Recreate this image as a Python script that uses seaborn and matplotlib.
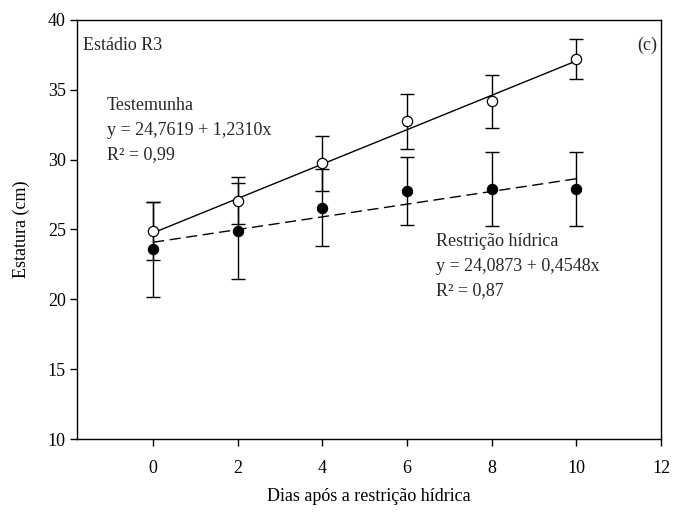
import matplotlib
matplotlib.use("Agg")
import matplotlib.pyplot as plt
import seaborn as sns
import numpy as np
import pandas as pd

# ---- data ----
dias = [0, 2, 4, 6, 8, 10]
testemunha = [24.9, 27.07, 29.74, 32.74, 34.17, 37.2]
testemunha_err = [2.1, 1.7, 1.95, 1.95, 1.9, 1.45]
restricao = [23.57, 24.9, 26.57, 27.74, 27.93, 27.93]
restricao_err = [3.4, 3.45, 2.75, 2.45, 2.65, 2.65]
fit_testemunha = [24.7619, 1.2310]   # intercept, slope
fit_restricao = [24.0873, 0.4548]
x_ticks = [0, 2, 4, 6, 8, 10, 12]
y_ticks = [10, 15, 20, 25, 30, 35, 40]

sns.set_theme(style="ticks")
plt.rcParams['font.family'] = ['Liberation Serif', 'DejaVu Serif']
plt.rcParams['mathtext.fontset'] = 'stix'

fig = plt.figure(figsize=(6.73, 5.15), dpi=100)
ax = fig.add_axes([77/673, 1-439/515, (661-77)/673, (439-20)/515])

fs = 13

# regression lines
xfit = np.array([dias[0], dias[-1]], dtype=float)
df_fit = pd.DataFrame({
    "x": np.concatenate([xfit, xfit]),
    "y": np.concatenate([fit_testemunha[0] + fit_testemunha[1]*xfit,
                         fit_restricao[0] + fit_restricao[1]*xfit]),
    "serie": ["T"]*2 + ["R"]*2,
})
sns.lineplot(data=df_fit[df_fit.serie == "T"], x="x", y="y", color="black",
             linewidth=1.0, ax=ax, zorder=2)
sns.lineplot(data=df_fit[df_fit.serie == "R"], x="x", y="y", color="black",
             linewidth=1.0, ax=ax, zorder=2, dashes=False)
ax.lines[-1].set_dashes([8, 4])

# error bars
ax.errorbar(dias, restricao, yerr=restricao_err, fmt="none", ecolor="black",
            elinewidth=1.0, capsize=5, capthick=1.0, zorder=3)
ax.errorbar(dias, testemunha, yerr=testemunha_err, fmt="none", ecolor="black",
            elinewidth=1.0, capsize=5, capthick=1.0, zorder=3)

# points
sns.scatterplot(x=dias, y=restricao, color="black", edgecolor="black",
                s=55, linewidth=0.8, ax=ax, zorder=4)
sns.scatterplot(x=dias, y=testemunha, color="white", edgecolor="black",
                s=55, linewidth=0.9, ax=ax, zorder=4)

ax.set_xlim(-1.8, 12)
ax.set_ylim(10, 40)
ax.set_xticks(x_ticks)
ax.set_yticks(y_ticks)
ax.set_xticklabels([str(t) for t in x_ticks], fontsize=fs)
ax.set_yticklabels([str(t) for t in y_ticks], fontsize=fs)
ax.tick_params(axis="both", direction="out", length=5, width=1, color="black",
               labelcolor="black")
ax.tick_params(axis="x", pad=10)
ax.tick_params(axis="y", pad=3)
for s in ax.spines.values():
    s.set_visible(True)
    s.set_linewidth(1.0)
    s.set_color("black")

ax.set_xlabel("Dias após a restrição hídrica", fontsize=fs, labelpad=8, color="black")
ax.set_ylabel("Estatura (cm)", fontsize=fs, labelpad=13, color="black")

ax.text(-1.66, 38.2, "Estádio R3", fontsize=fs, va="center", ha="left")
ax.text(11.9, 38.2, "(c)", fontsize=fs, va="center", ha="right")
ax.text(-1.10, 33.9, "Testemunha", fontsize=fs, va="center", ha="left")
ax.text(-1.10, 32.1, "y = 24,7619 + 1,2310x", fontsize=fs, va="center", ha="left")
ax.text(-1.10, 30.35, "R² = 0,99", fontsize=fs, va="center", ha="left")
ax.text(6.69, 24.17, "Restrição hídrica", fontsize=fs, va="center", ha="left")
ax.text(6.69, 22.38, "y = 24,0873 + 0,4548x", fontsize=fs, va="center", ha="left")
ax.text(6.69, 20.66, "R² = 0,87", fontsize=fs, va="center", ha="left")

fig.savefig("out.png", dpi=100)
